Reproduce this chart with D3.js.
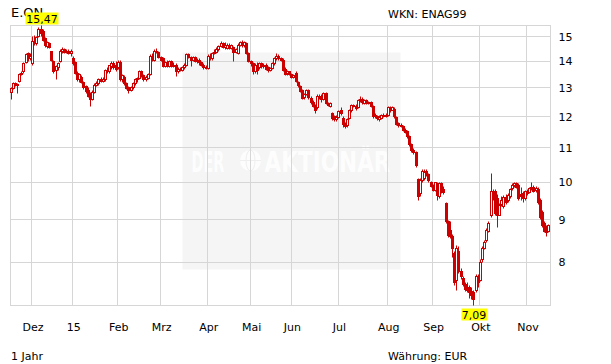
<!DOCTYPE html>
<html>
<head>
<meta charset="UTF-8">
<title>E.ON - 1 Jahr</title>
<script src="https://d3js.org/d3.v7.min.js"></script>
<style>
  body { margin: 0; background: #fff; }
  svg text { font-family: "DejaVu Sans", Verdana, sans-serif; font-size: 11px; fill: #000; }
</style>
</head>
<body>
<div id="chart"></div>
<script>
// daily candles, 17.11.2014 - 16.11.2015
const opens = [
  12.85,12.99,13.17,13.12,13.25,13.5,13.6,13.95,14.3,14.1,13.9,14.8,14.7,15.0,15.3,15.2,14.9,14.6,14.7,14.4,
  14.0,13.65,13.75,14.0,14.4,14.45,14.35,14.4,14.3,14.1,13.95,13.55,13.3,13.4,13.2,13.05,12.9,12.75,12.6,12.85,
  13.1,13.15,13.3,13.25,13.3,13.65,13.6,13.8,13.9,13.85,13.75,13.95,13.3,13.4,13.15,13.0,12.92,13.0,13.15,13.3,
  13.35,13.6,13.45,13.3,13.35,13.5,14.2,14.05,14.4,14.35,14.15,14.1,13.8,13.95,13.8,14.0,13.8,13.85,13.62,13.7,
  13.65,13.75,13.85,14.25,14.15,14.05,14.15,14.0,14.05,13.95,13.85,13.75,13.72,14.2,14.1,14.3,14.35,14.45,14.6,14.7,
  14.55,14.5,14.65,14.5,14.55,14.35,14.3,14.65,14.75,14.62,14.7,14.3,14.0,13.9,13.6,13.85,13.75,13.9,13.8,13.85,
  13.75,13.65,13.72,13.9,14.1,14.2,14.12,14.05,13.7,13.55,13.6,13.5,13.4,13.55,13.2,13.05,12.9,12.65,12.78,12.9,
  12.62,12.5,12.35,12.3,12.7,12.65,12.6,12.8,12.45,12.35,12.1,12.0,11.92,11.98,12.2,11.95,11.75,11.7,11.95,12.2,
  12.38,12.35,12.3,12.55,12.6,12.45,12.55,12.45,12.48,12.35,12.05,12.0,11.92,11.95,12.05,12.0,12.05,12.3,12.22,12.25,
  11.98,11.78,11.72,11.68,11.55,11.5,11.35,11.1,10.92,10.85,10.08,9.7,10.05,10.1,10.3,10.2,10.0,9.9,9.78,9.95,
  9.6,9.95,9.8,9.42,8.95,8.75,8.6,8.2,7.6,8.25,7.8,7.65,7.52,7.45,7.45,7.38,7.35,7.4,7.65,7.6,
  8.05,8.3,8.5,8.72,9.1,9.75,9.75,9.55,9.12,9.4,9.35,9.58,9.5,9.6,9.82,9.9,9.95,9.9,9.65,9.7,
  9.55,9.75,9.72,9.85,9.85,9.78,9.8,9.5,9.2,8.9,8.8,8.72
];
const highs = [
  13.0,13.2,13.2,13.15,13.52,13.6,13.95,14.3,14.35,14.3,15.0,15.05,15.0,15.38,15.47,15.3,14.95,14.8,14.75,14.4,
  14.05,13.85,13.95,14.45,14.55,14.5,14.45,14.45,14.45,14.2,14.0,13.6,13.55,13.45,13.25,13.1,13.0,12.85,12.9,13.15,
  13.25,13.35,13.4,13.4,13.7,13.75,13.85,14.0,14.0,14.0,14.05,14.05,13.5,13.45,13.2,13.05,13.05,13.2,13.35,13.4,
  13.65,13.65,13.5,13.45,13.55,14.25,14.3,14.45,14.5,14.4,14.2,14.15,14.0,14.05,14.05,14.05,13.95,13.9,13.75,13.75,
  13.8,13.9,14.3,14.3,14.2,14.2,14.2,14.1,14.1,14.0,13.9,13.85,14.25,14.3,14.35,14.45,14.55,14.65,14.78,14.75,
  14.75,14.7,14.7,14.68,14.6,14.5,14.7,14.8,14.84,14.8,14.75,14.35,14.05,13.95,13.9,13.95,13.95,13.95,13.9,13.9,
  13.8,13.78,13.95,14.15,14.3,14.25,14.15,14.1,13.75,13.65,13.62,13.55,13.5,13.6,13.25,13.1,12.95,12.8,12.95,12.95,
  12.68,12.55,12.4,12.75,12.78,12.75,12.85,12.85,12.5,12.5,12.15,12.05,12.05,12.22,12.3,12.0,11.82,11.95,12.25,12.42,
  12.42,12.4,12.6,12.68,12.65,12.58,12.58,12.52,12.52,12.38,12.1,12.05,12.03,12.08,12.1,12.1,12.35,12.35,12.35,12.3,
  12.0,11.82,11.78,11.72,11.6,11.55,11.4,11.15,10.98,10.9,10.1,10.1,10.35,10.35,10.35,10.25,10.02,9.93,10.0,9.98,
  10.0,9.98,9.88,9.45,8.98,8.95,8.65,8.25,8.37,8.35,7.85,7.68,7.55,7.55,7.5,7.45,7.4,7.72,7.72,8.05,
  8.35,8.5,8.78,8.95,10.25,9.8,9.8,9.65,9.42,9.6,9.62,9.65,9.7,9.82,9.95,10.0,10.0,9.95,9.85,9.75,
  9.78,9.8,9.85,10.0,9.9,9.88,9.85,9.55,9.25,8.95,8.85,8.88
];
const lows = [
  12.58,12.95,13.05,12.8,13.2,13.45,13.55,13.9,14.0,14.05,13.85,14.65,14.65,14.95,15.0,14.8,14.55,14.5,14.5,14.0,
  13.55,13.3,13.65,13.95,14.3,14.3,14.3,14.25,14.2,13.85,13.5,13.25,13.2,13.15,12.95,12.8,12.65,12.35,12.55,12.8,
  13.05,13.1,13.2,13.2,13.25,13.55,13.55,13.7,13.7,13.6,13.7,13.25,13.2,13.1,12.95,12.8,12.88,12.95,13.1,13.2,
  13.3,13.4,13.25,13.25,13.3,13.45,14.0,14.0,14.3,14.1,14.0,13.75,13.75,13.75,13.75,13.75,13.75,13.42,13.55,13.6,
  13.6,13.7,13.8,14.1,13.8,14.0,13.95,13.9,13.85,13.8,13.7,13.68,13.7,14.05,14.05,14.25,14.3,14.4,14.55,14.5,
  14.45,14.45,14.45,14.45,14.0,14.3,14.25,14.6,14.55,14.55,14.25,13.95,13.8,13.48,13.55,13.48,13.7,13.72,13.72,13.65,
  13.58,13.6,13.68,13.85,14.05,14.05,13.98,13.6,13.45,13.45,13.45,13.35,13.35,13.2,13.0,12.82,12.58,12.6,12.72,12.6,
  12.42,12.3,12.12,12.25,12.6,12.5,12.55,12.4,12.33,12.3,11.88,11.85,11.85,11.95,12.05,11.65,11.6,11.65,11.92,12.15,
  12.3,12.22,12.28,12.5,12.42,12.42,12.4,12.4,12.3,11.95,11.95,11.88,11.85,11.92,11.98,11.98,12.0,12.15,12.2,11.95,
  11.7,11.65,11.65,11.5,11.45,11.3,11.05,10.85,10.8,10.42,9.5,9.6,10.0,10.05,10.15,10.0,9.84,9.75,9.75,9.5,
  9.55,9.7,9.65,8.9,8.58,8.55,8.1,7.5,7.4,7.75,7.62,7.48,7.38,7.35,7.23,7.2,7.09,7.35,7.45,7.58,
  8.0,8.28,8.45,8.68,9.05,9.5,9.1,8.8,9.1,9.35,9.3,9.4,9.45,9.55,9.78,9.85,9.82,9.5,9.5,9.45,
  9.5,9.62,9.7,9.78,9.72,9.72,9.4,9.0,8.8,8.68,8.6,8.7
];
const closes = [
  12.98,13.17,13.1,13.1,13.5,13.55,13.9,14.25,14.1,14.2,14.8,14.75,14.95,15.3,15.15,14.85,14.65,14.75,14.55,14.05,
  13.62,13.8,13.9,14.4,14.45,14.35,14.4,14.3,14.4,13.9,13.55,13.3,13.5,13.2,13.0,12.88,12.7,12.6,12.85,13.1,
  13.15,13.3,13.25,13.3,13.65,13.6,13.82,13.9,13.75,13.7,13.95,13.3,13.45,13.15,12.98,12.92,13.0,13.15,13.3,13.35,
  13.62,13.5,13.3,13.4,13.5,14.2,14.1,14.4,14.35,14.15,14.05,13.8,13.95,13.8,14.0,13.8,13.85,13.62,13.7,13.65,
  13.75,13.85,14.25,14.15,14.05,14.15,14.0,14.05,13.95,13.85,13.75,13.72,14.2,14.1,14.3,14.35,14.45,14.6,14.7,14.55,
  14.65,14.65,14.5,14.62,14.35,14.45,14.65,14.75,14.62,14.75,14.3,14.0,13.9,13.6,13.85,13.65,13.9,13.8,13.85,13.7,
  13.65,13.72,13.9,14.1,14.2,14.12,14.05,13.65,13.5,13.6,13.5,13.4,13.45,13.25,13.1,12.88,12.62,12.75,12.9,12.65,
  12.48,12.33,12.22,12.7,12.65,12.6,12.8,12.45,12.38,12.45,11.95,11.92,11.98,12.18,12.1,11.75,11.68,11.9,12.2,12.38,
  12.35,12.28,12.55,12.6,12.48,12.55,12.45,12.48,12.35,12.0,12.0,11.95,11.98,12.05,12.02,12.05,12.3,12.22,12.3,12.0,
  11.75,11.72,11.7,11.55,11.48,11.35,11.1,10.92,10.85,10.47,9.6,10.05,10.3,10.28,10.2,10.05,9.88,9.78,9.98,9.62,
  9.95,9.8,9.72,8.95,8.62,8.6,8.3,7.55,8.3,7.8,7.68,7.52,7.42,7.4,7.35,7.3,7.2,7.68,7.55,8.0,
  8.3,8.45,8.75,8.92,9.75,9.6,9.15,9.1,9.38,9.5,9.58,9.45,9.62,9.8,9.9,9.95,9.85,9.55,9.6,9.55,
  9.75,9.7,9.82,9.82,9.75,9.82,9.45,9.05,8.85,8.72,8.68,8.85
];

const monthLabels = ["Dez", "15", "Feb", "Mrz", "Apr", "Mai", "Jun", "Jul", "Aug", "Sep", "Okt", "Nov"];
const monthStarts = [10, 29, 50, 70, 92, 112, 131, 153, 176, 197, 219, 241];
const priceTicks = [8, 9, 10, 11, 12, 13, 14, 15];

const red = "#cc0000";
const grid = "#d6d6d6";

const margin = { top: 25, right: 61, bottom: 59, left: 10 };
const width = 611 - margin.left - margin.right;
const height = 364 - margin.top - margin.bottom;

const svg = d3.select("#chart")
  .append("svg")
  .attr("width", 611)
  .attr("height", 364);

// header / footer texts
svg.append("text").attr("x", 11).attr("y", 17).style("font-size", "13px").text("E.ON");
svg.append("text").attr("x", 388).attr("y", 18).text("WKN: ENAG99");
svg.append("text").attr("x", 11).attr("y", 360).text("1 Jahr");
svg.append("text").attr("x", 388).attr("y", 360).text("Währung: EUR");

const g = svg.append("g")
  .attr("transform", "translate(" + (margin.left + 0.5) + "," + (margin.top + 0.5) + ")");

const days = d3.range(opens.length);

const x = d3.scaleBand()
  .domain(days)
  .range([0, width]);

const y = d3.scaleLog()
  .domain([d3.min(lows), d3.max(highs)])
  .range([height, 0]);

// watermark
const wm = g.append("g");
wm.append("rect")
  .attr("x", 172).attr("y", 27).attr("width", 218).attr("height", 217)
  .attr("fill", "#f5f5f5");
wm.append("text").attr("x", 181).attr("y", 146)
  .attr("textLength", 33).attr("lengthAdjust", "spacingAndGlyphs")
  .style("font-size", "29px").style("font-weight", "bold").style("fill", "#fdfdfd")
  .text("DER");
wm.append("circle").attr("cx", 240).attr("cy", 135).attr("r", 10.5).attr("fill", "#fdfdfd");
wm.append("ellipse").attr("cx", 240).attr("cy", 135).attr("rx", 4.5).attr("ry", 10.5)
  .attr("fill", "none").attr("stroke", "#efefef");
wm.append("line").attr("x1", 229.5).attr("x2", 250.5).attr("y1", 135).attr("y2", 135).attr("stroke", "#efefef");
wm.append("text").attr("x", 254).attr("y", 146)
  .attr("textLength", 126).attr("lengthAdjust", "spacingAndGlyphs")
  .style("font-size", "29px").style("font-weight", "bold").style("fill", "#fdfdfd")
  .text("AKTIONÄR");

// grid
g.selectAll(".hgrid")
  .data(priceTicks)
  .enter().append("line")
  .attr("x1", 0).attr("x2", width)
  .attr("y1", d => Math.round(y(d))).attr("y2", d => Math.round(y(d)))
  .attr("stroke", grid);

g.selectAll(".vgrid")
  .data(monthStarts)
  .enter().append("line")
  .attr("x1", d => Math.round(x(d))).attr("x2", d => Math.round(x(d)))
  .attr("y1", 0).attr("y2", height)
  .attr("stroke", grid);

g.append("rect")
  .attr("width", width).attr("height", height)
  .attr("fill", "none").attr("stroke", grid);

// candles
const cx = i => Math.floor(x(i) + x.bandwidth() / 2);

const candle = g.selectAll(".candle")
  .data(days)
  .enter().append("g");

candle.append("line")
  .attr("x1", cx).attr("x2", cx)
  .attr("y1", i => Math.round(y(highs[i])))
  .attr("y2", i => Math.round(y(lows[i])))
  .attr("stroke", red);

candle.append("rect")
  .attr("x", i => cx(i) - 1)
  .attr("width", 2)
  .attr("y", i => Math.round(y(Math.max(opens[i], closes[i]))))
  .attr("height", i => Math.max(1, Math.round(y(Math.min(opens[i], closes[i]))) - Math.round(y(Math.max(opens[i], closes[i])))))
  .attr("fill", i => closes[i] >= opens[i] ? "#fff" : red)
  .attr("stroke", red);

// axes
const yAxis = g.append("g")
  .attr("transform", "translate(" + width + ",0)")
  .call(d3.axisRight(y).tickValues(priceTicks).tickSize(0).tickPadding(8).tickFormat(d3.format("d")));
yAxis.select(".domain").remove();

const xAxis = g.append("g")
  .attr("transform", "translate(0," + height + ")")
  .call(d3.axisBottom(x).tickValues(monthStarts).tickSize(0).tickPadding(18)
    .tickFormat(d => monthLabels[monthStarts.indexOf(d)]));
xAxis.select(".domain").remove();

// high / low markers
const fmt = v => v.toFixed(2).replace(".", ",");
const hi = d3.maxIndex(highs);
const lo = d3.minIndex(lows);

function marker(i, value, top) {
  const t = g.append("text")
    .attr("text-anchor", "middle")
    .attr("x", cx(i) + 0.5)
    .text(fmt(value));
  const w = t.node().getComputedTextLength();
  const yy = top ? Math.round(y(value)) - 13 : Math.round(y(value)) + 3;
  g.insert("rect", () => t.node())
    .attr("x", Math.round(cx(i) - w / 2))
    .attr("y", yy)
    .attr("width", Math.round(w) + 1)
    .attr("height", 12)
    .attr("fill", "#ffff00");
  t.attr("y", yy + 10);
}
marker(hi, highs[hi], true);
marker(lo, lows[lo], false);
</script>
</body>
</html>
